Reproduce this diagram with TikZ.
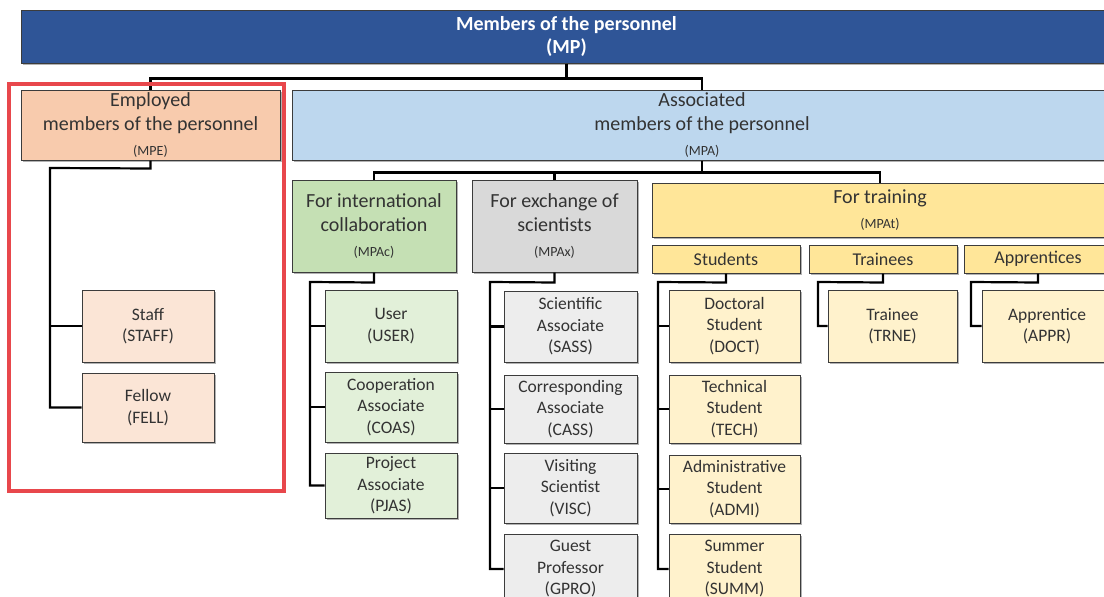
\documentclass[tikz,border=0pt]{standalone}
\usepackage{fontspec}
\setmainfont{Carlito}
\usetikzlibrary{shadows,calc}
\definecolor{mpblue}{HTML}{2F5597}
\definecolor{mpeor}{HTML}{F8CBAD}
\definecolor{mpechild}{HTML}{FBE5D6}
\definecolor{mpabl}{HTML}{BDD7EE}
\definecolor{mpacgr}{HTML}{C5E0B4}
\definecolor{mpacchild}{HTML}{E2F0D9}
\definecolor{mpaxgr}{HTML}{D9D9D9}
\definecolor{mpaxchild}{HTML}{EDEDED}
\definecolor{mpatyl}{HTML}{FFE699}
\definecolor{mpatchild}{HTML}{FFF2CC}
\definecolor{boxline}{HTML}{3C3C3C}
\definecolor{txt}{HTML}{333333}
\definecolor{redframe}{HTML}{E8474C}
\newcommand\fhdr{\fontsize{20}{24.5}\selectfont}
\newcommand\fcode{\fontsize{14}{16}\selectfont}
\newcommand\fsubh{\fontsize{18}{20}\selectfont}
\newcommand\fchild{\fontsize{17.5}{21.5}\selectfont}
\tikzset{
  box/.style={rectangle, draw=boxline, line width=1pt, align=center, inner sep=0pt,
    text=txt, drop shadow={shadow xshift=1.5pt, shadow yshift=-1.5pt, opacity=0.3, fill=black}},
  hbox/.style={box, font=\fhdr},
  sbox/.style={box, font=\fsubh},
  cbox/.style={box, font=\fchild},
  conn/.style={draw=black, line width=2.2pt, line join=miter},
  frame/.style={draw=redframe, line width=3.5pt}
}
\begin{document}
\begin{tikzpicture}[x=1pt,y=-1pt]
\useasboundingbox (0,0) rectangle (1104,597);
\clip (0,0) rectangle (1104,597);
\fill[white] (0,0) rectangle (1104,597);

% top
\node[box, fill=mpblue, text=white, font=\fontsize{20}{23}\selectfont\bfseries,
  minimum width=1091pt, minimum height=53pt] (mp) at (566.5,36.5)
  {Members of the personnel\\(MP)};

\node[hbox, fill=mpeor, minimum width=259pt, minimum height=70pt] (mpe) at (150.5,125)
  {Employed\\members of the personnel\\{\fcode (MPE)}};
\node[hbox, fill=mpabl, minimum width=820pt, minimum height=70pt] (mpa) at (702,125)
  {Associated\\members of the personnel\\{\fcode (MPA)}};

% MPA sub groups
\node[hbox, fill=mpacgr, minimum width=164pt, minimum height=92pt] (mpac) at (374,226)
  {For international\\collaboration\\{\fcode (MPAc)}};
\node[hbox, fill=mpaxgr, minimum width=165pt, minimum height=92pt] (mpax) at (554.5,226)
  {For exchange of\\scientists\\{\fcode (MPAx)}};
\node[hbox, fill=mpatyl, minimum width=456pt, minimum height=54pt] (mpat) at (880,210)
  {For training\\{\fcode (MPAt)}};

\node[sbox, fill=mpatyl, minimum width=148pt, minimum height=28pt] (stud) at (726,259) {Students};
\node[sbox, fill=mpatyl, minimum width=148pt, minimum height=28pt] (trai) at (883,259) {Trainees};
\node[sbox, fill=mpatyl, minimum width=148pt, minimum height=28pt] (appr) at (1038,259) {Apprentices};

% MPE children
\node[cbox, fill=mpechild, minimum width=132pt, minimum height=72pt] (staff) at (148,326) {Staff\\(STAFF)};
\node[cbox, fill=mpechild, minimum width=132pt, minimum height=69pt] (fell) at (148,407.5) {Fellow\\(FELL)};

% MPAc children
\node[cbox, fill=mpacchild, minimum width=132pt, minimum height=72pt] (user) at (391,326) {User\\(USER)};
\node[cbox, fill=mpacchild, minimum width=132pt, minimum height=70pt] (coas) at (391,407) {Cooperation\\Associate\\(COAS)};
\node[cbox, fill=mpacchild, minimum width=132pt, minimum height=65pt] (pjas) at (391,485.5) {Project\\Associate\\(PJAS)};

% MPAx children
\node[cbox, fill=mpaxchild, minimum width=133pt, minimum height=71pt] (sass) at (570.5,326.5) {Scientific\\Associate\\(SASS)};
\node[cbox, fill=mpaxchild, minimum width=133pt, minimum height=68pt] (cass) at (570.5,409) {Corresponding\\Associate\\(CASS)};
\node[cbox, fill=mpaxchild, minimum width=133pt, minimum height=70pt] (visc) at (570.5,488) {Visiting\\Scientist\\(VISC)};
\node[cbox, fill=mpaxchild, minimum width=133pt, minimum height=70pt] (gpro) at (570.5,569) {Guest\\Professor\\(GPRO)};

% Students children
\node[cbox, fill=mpatchild, minimum width=131pt, minimum height=72pt] (doct) at (734.5,326) {Doctoral\\Student\\(DOCT)};
\node[cbox, fill=mpatchild, minimum width=131pt, minimum height=68pt] (tech) at (734.5,409) {Technical\\Student\\(TECH)};
\node[cbox, fill=mpatchild, minimum width=131pt, minimum height=68pt] (admi) at (734.5,489) {Administrative\\Student\\(ADMI)};
\node[cbox, fill=mpatchild, minimum width=131pt, minimum height=70pt] (summ) at (734.5,569) {Summer\\Student\\(SUMM)};

\node[cbox, fill=mpatchild, minimum width=129pt, minimum height=72pt] (trne) at (892.5,326) {Trainee\\(TRNE)};
\node[cbox, fill=mpatchild, minimum width=130pt, minimum height=72pt] (appre) at (1047,326) {Apprentice\\(APPR)};

% connectors: MP level
\coordinate (b0) at ($(mp.south)+(0,15)$);
\draw[conn] (mp.south) -- (b0);
\draw[conn] (b0) -| (mpe.north);
\draw[conn] (b0) -| (mpa.north);

% MPA level
\coordinate (b1) at ($(mpa.south)+(0,12)$);
\draw[conn] (mpa.south) -- (b1);
\draw[conn] (b1) -| (mpac.north);
\draw[conn] (b1) -| (mpat.north);
\draw[conn] (b1 -| mpax.north) -- (mpax.north);

% MPE spine
\coordinate (e0) at ($(mpe.south)+(0,8)$);
\coordinate (e1) at (50,168);
\draw[conn] (mpe.south) -- (e0) -- (e1) |- (fell.west);
\draw[conn] (e1) |- (staff.west);

% MPAc spine
\coordinate (c0) at ($(mpac.south)+(0,10)$);
\coordinate (c1) at (310,282);
\draw[conn] (mpac.south) -- (c0) -- (c1) |- (pjas.west);
\draw[conn] (c1) |- (user.west);
\draw[conn] (c1) |- (coas.west);

% MPAx spine
\coordinate (x0) at ($(mpax.south)+(0,10)$);
\coordinate (x1) at (490,282);
\draw[conn] (mpax.south) -- (x0) -- (x1) |- (gpro.west);
\draw[conn] (x1) |- (sass.west);
\draw[conn] (x1) |- (cass.west);
\draw[conn] (x1) |- (visc.west);

% Students spine
\coordinate (s0) at ($(stud.south)+(0,9)$);
\coordinate (s1) at (658,282);
\draw[conn] (stud.south) -- (s0) -- (s1) |- (summ.west);
\draw[conn] (s1) |- (doct.west);
\draw[conn] (s1) |- (tech.west);
\draw[conn] (s1) |- (admi.west);

% Trainees
\coordinate (t0) at ($(trai.south)+(0,9)$);
\coordinate (t1) at (818,282);
\draw[conn] (trai.south) -- (t0) -- (t1) |- (trne.west);

% Apprentices
\coordinate (a0) at ($(appr.south)+(0,9)$);
\coordinate (a1) at (971,282);
\draw[conn] (appr.south) -- (a0) -- (a1) |- (appre.west);

% red highlight frame
\draw[frame] (9,84) rectangle (284,491);
\end{tikzpicture}
\end{document}
